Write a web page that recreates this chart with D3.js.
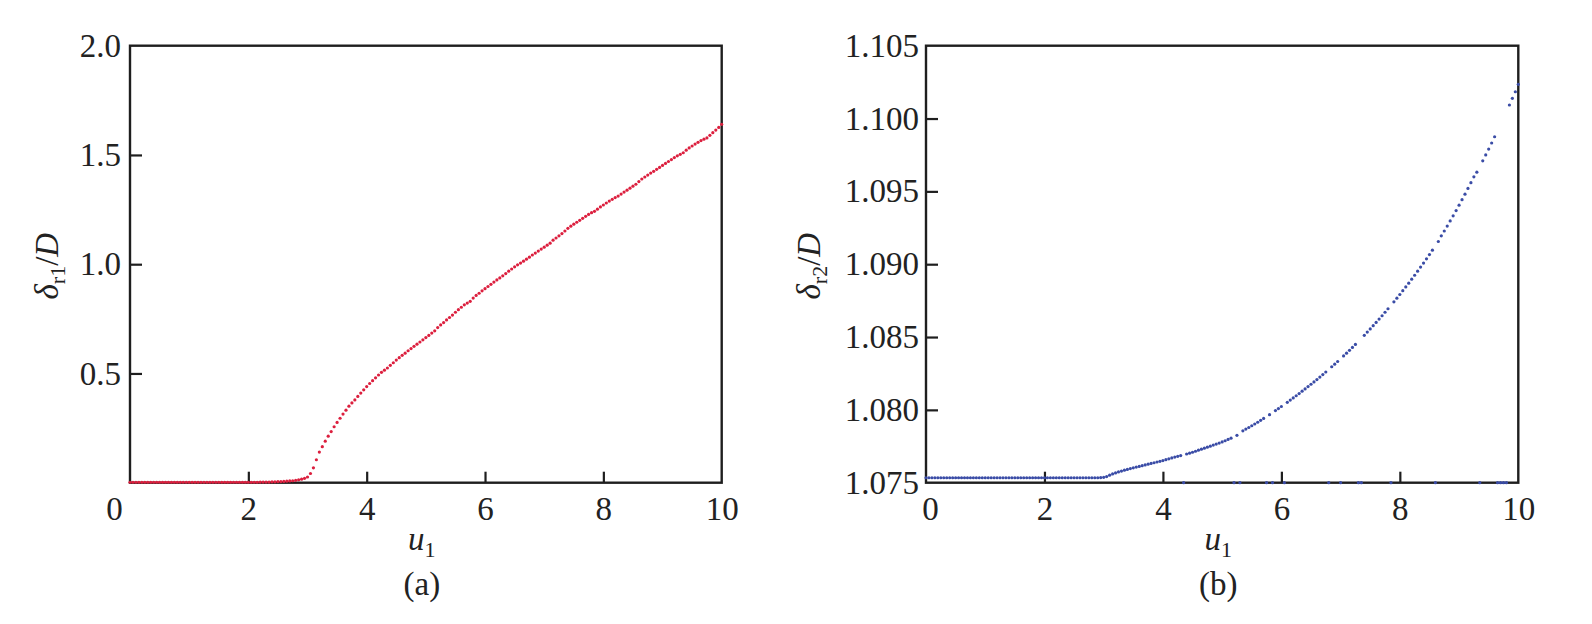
<!DOCTYPE html>
<html>
<head>
<meta charset="utf-8">
<script src="https://cdn.jsdelivr.net/npm/d3@7"></script>
<style>
  html, body { margin: 0; padding: 0; background: #fff; }
  svg { display: block; }
  text { font-family: "Liberation Serif", "DejaVu Serif", serif; fill: #222; }
</style>
</head>
<body>
<svg id="chart" width="1592" height="624"></svg>
<script>
// u1 sampled every 0.05 from 0 to 10 (index i -> u1 = i * 0.05)
const uStep = 0.05;

// delta_r1 / D, panel (a)
const deltaR1 = [
  0.002, 0.002, 0.002, 0.002, 0.002, 0.002, 0.002, 0.002, 0.002, 0.002,
  0.002, 0.002, 0.002, 0.002, 0.002, 0.002, 0.002, 0.002, 0.002, 0.002,
  0.002, 0.002, 0.002, 0.002, 0.002, 0.002, 0.002, 0.002, 0.002, 0.002,
  0.002, 0.002, 0.002, 0.002, 0.002, 0.002, 0.002, 0.002, 0.002, 0.002,
  0.002, 0.002, 0.002, 0.002, 0.003, 0.003, 0.003, 0.003, 0.004, 0.004,
  0.005, 0.005, 0.006, 0.007, 0.008, 0.009, 0.011, 0.013, 0.016, 0.020,
  0.026, 0.042, 0.068, 0.105, 0.140, 0.165, 0.190, 0.213, 0.234, 0.256,
  0.276, 0.295, 0.314, 0.332, 0.350, 0.365, 0.379, 0.395, 0.410, 0.425,
  0.440, 0.454, 0.467, 0.480, 0.493, 0.505, 0.515, 0.525, 0.537, 0.549,
  0.561, 0.572, 0.583, 0.593, 0.604, 0.614, 0.624, 0.634, 0.644, 0.654,
  0.664, 0.674, 0.685, 0.695, 0.710, 0.722, 0.733, 0.745, 0.756, 0.767,
  0.780, 0.792, 0.803, 0.814, 0.822, 0.830, 0.845, 0.857, 0.867, 0.878,
  0.888, 0.898, 0.908, 0.918, 0.928, 0.937, 0.947, 0.957, 0.968, 0.978,
  0.988, 0.997, 1.005, 1.014, 1.023, 1.032, 1.042, 1.051, 1.060, 1.069,
  1.078, 1.087, 1.096, 1.110, 1.120, 1.130, 1.140, 1.152, 1.164, 1.174,
  1.183, 1.192, 1.201, 1.210, 1.219, 1.228, 1.236, 1.242, 1.252, 1.262,
  1.271, 1.280, 1.289, 1.297, 1.305, 1.312, 1.321, 1.330, 1.339, 1.348,
  1.357, 1.366, 1.378, 1.390, 1.399, 1.408, 1.417, 1.425, 1.434, 1.443,
  1.452, 1.461, 1.470, 1.479, 1.488, 1.496, 1.503, 1.510, 1.522, 1.532,
  1.541, 1.550, 1.558, 1.566, 1.572, 1.578, 1.590, 1.602, 1.614, 1.626,
  1.640
];

// delta_r2 / D, panel (b); the 1.075 entries are the dropped points on the bottom axis
const deltaR2 = [
  1.07534, 1.07534, 1.07534, 1.07534, 1.07534, 1.07534, 1.07534, 1.07534, 1.07534, 1.07534,
  1.07534, 1.07534, 1.07534, 1.07534, 1.07534, 1.07534, 1.07534, 1.07534, 1.07534, 1.07534,
  1.07534, 1.07534, 1.07534, 1.07534, 1.07534, 1.07534, 1.07534, 1.07534, 1.07534, 1.07534,
  1.07534, 1.07534, 1.07534, 1.07534, 1.07534, 1.07534, 1.07534, 1.07534, 1.07534, 1.07534,
  1.07534, 1.07534, 1.07534, 1.07534, 1.07534, 1.07534, 1.07534, 1.07534, 1.07534, 1.07534,
  1.07534, 1.07534, 1.07534, 1.07534, 1.07534, 1.07534, 1.07534, 1.07534, 1.07534, 1.07535,
  1.07537, 1.07542, 1.07552, 1.07560, 1.07567, 1.07574, 1.07580, 1.07586, 1.07591, 1.07597,
  1.07602, 1.07607, 1.07612, 1.07617, 1.07622, 1.07627, 1.07632, 1.07637, 1.07642, 1.07647,
  1.07652, 1.07658, 1.07664, 1.07670, 1.07676, 1.07681, 1.07686, 1.07500, 1.07697, 1.07703,
  1.07709, 1.07716, 1.07723, 1.07730, 1.07737, 1.07744, 1.07751, 1.07758, 1.07765, 1.07772,
  1.07780, 1.07788, 1.07797, 1.07806, 1.07500, 1.07825, 1.07500, 1.07856, 1.07868, 1.07879,
  1.07891, 1.07903, 1.07915, 1.07928, 1.07941, 1.07500, 1.07967, 1.07500, 1.07995, 1.08009,
  1.08023, 1.07500, 1.08052, 1.08067, 1.08082, 1.08097, 1.08112, 1.08128, 1.08144, 1.08160,
  1.08176, 1.08192, 1.08208, 1.08225, 1.08242, 1.08260, 1.07500, 1.08296, 1.08314, 1.08332,
  1.07500, 1.08370, 1.08389, 1.08409, 1.08429, 1.08449, 1.07500, 1.07500, 1.08512, 1.08534,
  1.08556, 1.08578, 1.08600, 1.08623, 1.08646, 1.08670, 1.08694, 1.07500, 1.08742, 1.08767,
  1.08792, 1.08818, 1.08844, 1.08870, 1.08897, 1.08924, 1.08952, 1.08980, 1.09008, 1.09037,
  1.09066, 1.09096, 1.07500, 1.09156, 1.09195, 1.09228, 1.09262, 1.09297, 1.09332, 1.09368,
  1.09405, 1.09443, 1.09481, 1.09520, 1.09560, 1.09600, 1.09632, 1.07500, 1.09710, 1.09750,
  1.09790, 1.09832, 1.09875, 1.07500, 1.07500, 1.07500, 1.07500, 1.10093, 1.10139, 1.10184,
  1.10235
];

const u1Ticks = [0, 2, 4, 6, 8, 10];
const yTicksA = [0.5, 1.0, 1.5, 2.0];
const yTicksB = [1.075, 1.080, 1.085, 1.090, 1.095, 1.100, 1.105];

const svg = d3.select('#chart');
const fontSize = 33;
const subSize = 22;
const axisColor = '#1e1e1e';

function drawPanel(opt) {
  const w = opt.right - opt.left;
  const h = opt.bottom - opt.top;
  const g = svg.append('g').attr('transform', `translate(${opt.left},${opt.top})`);

  const x = d3.scaleLinear().domain([0, 10]).range([0, w]);
  const y = d3.scaleLinear().domain(opt.yDomain).range([h, 0]);

  // bottom axis, ticks pointing inward
  const xAxis = g.append('g')
    .attr('transform', `translate(0,${h})`)
    .call(d3.axisBottom(x).tickValues(u1Ticks).tickFormat(d3.format('d'))
      .tickSizeInner(-11).tickSizeOuter(0).tickPadding(14));
  xAxis.select('.domain').remove();
  xAxis.selectAll('line').attr('stroke', axisColor).attr('stroke-width', 2.2)
    .attr('display', d => (d === 0 || d === 10) ? 'none' : null);
  xAxis.selectAll('text')
    .attr('font-size', fontSize)
    .attr('font-family', 'Liberation Serif')
    .attr('fill', '#222')
    .attr('dx', d => d === 0 ? opt.zeroShift : 0);

  const yAxis = g.append('g')
    .call(d3.axisLeft(y).tickValues(opt.yTicks).tickFormat(d3.format(opt.yFormat))
      .tickSizeInner(-12).tickSizeOuter(0).tickPadding(opt.yPad));
  yAxis.select('.domain').remove();
  yAxis.selectAll('line').attr('stroke', axisColor).attr('stroke-width', 2.2)
    .attr('display', d => (d === opt.yDomain[0] || d === opt.yDomain[1]) ? 'none' : null);
  yAxis.selectAll('text')
    .attr('font-size', fontSize)
    .attr('font-family', 'Liberation Serif')
    .attr('fill', '#222');

  // frame
  g.append('rect')
    .attr('x', 0).attr('y', 0).attr('width', w).attr('height', h)
    .attr('fill', 'none').attr('stroke', axisColor).attr('stroke-width', 2.4);

  // dots, drawn over the frame like in the original
  g.append('g').selectAll('circle').data(opt.values)
    .enter().append('circle')
    .attr('cx', (d, i) => x(i * uStep))
    .attr('cy', d => y(d))
    .attr('r', opt.r)
    .attr('fill', opt.color);

  // x label u_1
  const xl = g.append('text')
    .attr('x', w / 2 - 4).attr('y', h + 67)
    .attr('text-anchor', 'middle').attr('font-size', fontSize);
  xl.append('tspan').attr('font-style', 'italic').text('u');
  xl.append('tspan').attr('font-size', subSize).attr('dy', 7).text('1');

  // panel tag
  g.append('text')
    .attr('x', w / 2 - 4).attr('y', h + 112)
    .attr('text-anchor', 'middle').attr('font-size', fontSize)
    .text(opt.tag);

  // y label delta_r?/D
  const yl = g.append('text')
    .attr('transform', `translate(${opt.yLabelX},${h / 2 + 2}) rotate(-90)`)
    .attr('text-anchor', 'middle').attr('font-size', fontSize);
  yl.append('tspan').attr('font-style', 'italic').text('δ');
  yl.append('tspan').attr('font-size', subSize).attr('dy', 7).text(opt.sub);
  yl.append('tspan').attr('dy', -7).text('/');
  yl.append('tspan').attr('font-style', 'italic').text('D');
}

drawPanel({
  left: 130, right: 721.7, top: 45.7, bottom: 482.7,
  yDomain: [0, 2.0], yTicks: yTicksA, yFormat: '.1f', yPad: 9,
  values: deltaR1, color: '#dc1f3e', r: 1.6,
  zeroShift: -16, yLabelX: -72, sub: 'r1', tag: '(a)'
});

drawPanel({
  left: 926, right: 1518.3, top: 45.7, bottom: 482.7,
  yDomain: [1.075, 1.105], yTicks: yTicksB, yFormat: '.3f', yPad: 7,
  values: deltaR2, color: '#3a4ca6', r: 1.6,
  zeroShift: 4, yLabelX: -106, sub: 'r2', tag: '(b)'
});
</script>
</body>
</html>
